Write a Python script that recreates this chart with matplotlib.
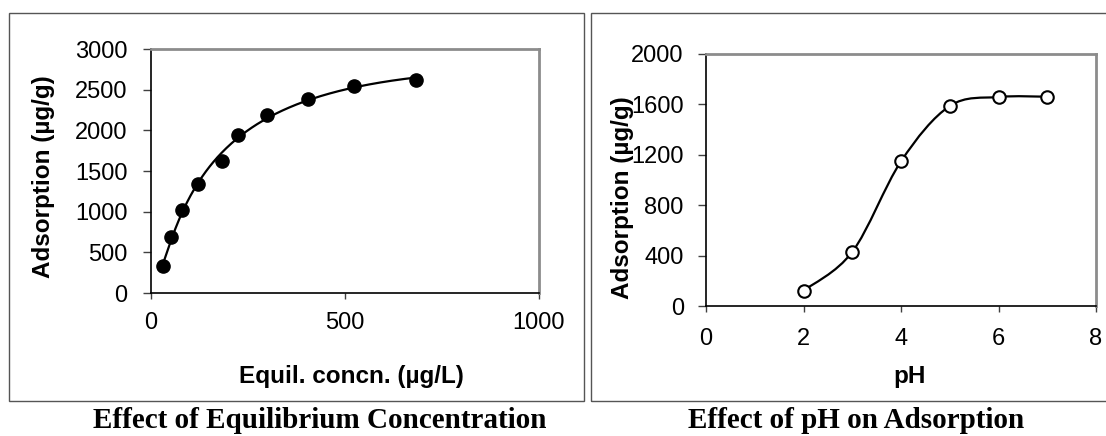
import numpy as np
import matplotlib
matplotlib.use("Agg")
import matplotlib.pyplot as plt
from matplotlib.patches import Rectangle, PathPatch
from matplotlib.path import Path

# Effect of equilibrium concentration (left panel)
conc = [30, 52, 81, 122, 183, 225, 298, 404, 524, 684]
conc_ads = [328, 684, 1025, 1340, 1623, 1943, 2193, 2381, 2545, 2623]

# Effect of pH (right panel)
ph = [2, 3, 4, 5, 6, 7]
ph_ads = [122, 429, 1148, 1587, 1659, 1661]

left_xticks = [0, 500, 1000]
left_yticks = [0, 500, 1000, 1500, 2000, 2500, 3000]
right_xticks = [0, 2, 4, 6, 8]
right_yticks = [0, 400, 800, 1200, 1600, 2000]

W, H = 1106, 436
SANS = "Liberation Sans"
SERIF = "Liberation Serif"
TICK_FS = 17
LABEL_FS = 17.5
CAP_FS = 21


def fx(px):
    return px / W


def fy(py):
    return 1 - py / H


def smooth_path(x, y):
    """Excel-like smoothed line: cubic Bezier through every point."""
    pts = np.column_stack([x, y]).astype(float)
    n = len(pts)
    verts = [pts[0]]
    codes = [Path.MOVETO]
    for i in range(n - 1):
        p0 = pts[i - 1] if i > 0 else pts[i]
        p1 = pts[i]
        p2 = pts[i + 1]
        p3 = pts[i + 2] if i + 2 < n else pts[i + 1]
        c1 = p1 + (p2 - p0) / 6
        c2 = p2 - (p3 - p1) / 6
        verts += [c1, c2, p2]
        codes += [Path.CURVE4] * 3
    return Path(verts, codes)


def style_axes(ax, xpad, ypad):
    for s in ["left", "bottom"]:
        ax.spines[s].set_color("black")
        ax.spines[s].set_linewidth(1.2)
    for s in ["top", "right"]:
        ax.spines[s].set_color("#8c8c8c")
        ax.spines[s].set_linewidth(2)
    ax.tick_params(axis="y", direction="out", length=6, width=1,
                   color="#404040", pad=ypad, labelsize=TICK_FS)
    ax.tick_params(axis="x", direction="out", length=4.5, width=1,
                   color="#404040", pad=xpad, labelsize=TICK_FS)
    for lab in ax.get_xticklabels() + ax.get_yticklabels():
        lab.set_fontfamily(SANS)


def main():
    fig = plt.figure(figsize=(W / 100, H / 100), dpi=100)

    # panel frames
    fig.add_artist(Rectangle((fx(8.5), fy(401)), fx(584 - 8.5), (401 - 12.7) / H,
                             transform=fig.transFigure, fill=False,
                             edgecolor="#555555", lw=1))
    fig.add_artist(Rectangle((fx(591), fy(401)), fx(1115 - 591), (401 - 12.7) / H,
                             transform=fig.transFigure, fill=False,
                             edgecolor="#555555", lw=1))

    # left panel: trend curve (cubic in log x) plus data points
    ax1 = fig.add_axes([fx(151), fy(293), fx(539 - 151), (293 - 49) / H])
    coef = np.polyfit(np.log(conc), conc_ads, 3)
    xs = np.linspace(min(conc), max(conc), 200)
    ax1.plot(xs, np.polyval(coef, np.log(xs)), color="black", lw=1.6, zorder=2)
    ax1.plot(conc, conc_ads, "o", color="black", ms=9.5, zorder=3)
    ax1.set_xlim(0, 1000)
    ax1.set_ylim(0, 3000)
    ax1.set_xticks(left_xticks)
    ax1.set_yticks(left_yticks)
    style_axes(ax1, xpad=9, ypad=11)

    # right panel
    ax2 = fig.add_axes([fx(706), fy(306), fx(1096 - 706), (306 - 54) / H])
    ax2.add_patch(PathPatch(smooth_path(ph, ph_ads), fill=False,
                            edgecolor="black", lw=1.6, zorder=2))
    ax2.plot(ph, ph_ads, "o", mfc="white", mec="black", mew=1.5, ms=9,
             zorder=3)
    ax2.set_xlim(0, 8)
    ax2.set_ylim(0, 2000)
    ax2.set_xticks(right_xticks)
    ax2.set_yticks(right_yticks)
    style_axes(ax2, xpad=11, ypad=10)

    # axis titles
    fig.text(fx(44), fy(177), "Adsorption (\u00b5g/g)", rotation=90,
             ha="center", va="center", fontsize=LABEL_FS, fontweight="bold",
             fontfamily=SANS)
    fig.text(fx(351), fy(383), "Equil. concn. (\u00b5g/L)", ha="center",
             va="baseline", fontsize=LABEL_FS, fontweight="bold",
             fontfamily=SANS)
    fig.text(fx(622), fy(198), "Adsorption (\u00b5g/g)", rotation=90,
             ha="center", va="center", fontsize=LABEL_FS, fontweight="bold",
             fontfamily=SANS)
    fig.text(fx(910), fy(383), "pH", ha="center", va="baseline",
             fontsize=LABEL_FS, fontweight="bold", fontfamily=SANS)

    # captions
    fig.text(fx(320), fy(428), "Effect of Equilibrium Concentration",
             ha="center", va="baseline", fontsize=CAP_FS, fontweight="bold",
             fontfamily=SERIF)
    fig.text(fx(856), fy(428), "Effect of pH on Adsorption",
             ha="center", va="baseline", fontsize=CAP_FS, fontweight="bold",
             fontfamily=SERIF)

    fig.savefig("out.png", dpi=100)


if __name__ == "__main__":
    main()
